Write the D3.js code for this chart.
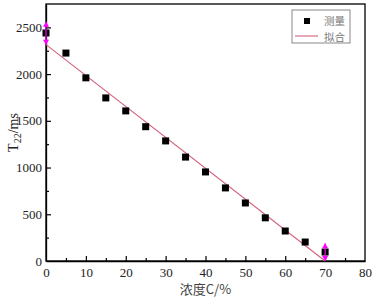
<!DOCTYPE html>
<html><head><meta charset="utf-8">
<script src="https://cdn.jsdelivr.net/npm/d3@7"></script>
<style>body{margin:0;background:#fff}svg{display:block}</style>
</head><body>
<script>
const concentration = [0,5,10,15,20,25,30,35,40,45,50,55,60,65,70];
const measured = [2440,2225,1960,1745,1606,1437,1285,1112,953,782,621,462,321,203,96];
const fitX = [0,70];
const fitY = [2315,0];
const errorBars = [{x:0, lo:2315, hi:2560},{x:70, lo:0, hi:190}];
const xTicks = [0,10,20,30,40,50,60,70,80];
const yTicks = [0,500,1000,1500,2000,2500];
const legendLabels = ["测量","拟合"];

const W=376,H=302;
const m={l:46,r:11,t:4,b:41};
const svg=d3.select("body").append("svg").attr("width",W).attr("height",H);
const x=d3.scaleLinear().domain([0,80]).range([m.l,W-m.r]);
const y=d3.scaleLinear().domain([0,2750]).range([H-m.b,m.t]);
const font="'Liberation Serif','Times New Roman',serif";

// frame
svg.append("rect").attr("x",m.l).attr("y",m.t).attr("width",W-m.r-m.l).attr("height",H-m.b-m.t)
  .attr("fill","none").attr("stroke","#000").attr("stroke-width",1.3);

// x axis
const xa=svg.append("g").attr("transform",`translate(0,${H-m.b})`)
  .call(d3.axisBottom(x).tickValues(xTicks).tickFormat(d3.format("d")).tickSizeInner(-5).tickSizeOuter(0).tickPadding(7));
xa.selectAll(".tick").filter(d=>d===0||d===80).select("line").remove();
const xm=svg.append("g").attr("transform",`translate(0,${H-m.b})`)
  .call(d3.axisBottom(x).tickValues(d3.range(5,80,10)).tickSizeInner(-3).tickSizeOuter(0).tickFormat(""));
xm.select(".domain").remove();
// y axis
const ya=svg.append("g").attr("transform",`translate(${m.l},0)`)
  .call(d3.axisLeft(y).tickValues(yTicks).tickFormat(d3.format("d")).tickSizeInner(-5).tickSizeOuter(0).tickPadding(4));
ya.selectAll(".tick").filter(d=>d===0).select("line").remove();
const ym=svg.append("g").attr("transform",`translate(${m.l},0)`)
  .call(d3.axisLeft(y).tickValues(d3.range(250,2750,500)).tickSizeInner(-3).tickSizeOuter(0).tickFormat(""));
ym.select(".domain").remove();
svg.selectAll(".domain").attr("stroke","#000").attr("stroke-width",1.3);
svg.selectAll(".tick line").attr("stroke","#000").attr("stroke-width",1.2);
svg.selectAll(".tick text").attr("font-family",font).attr("font-size",13).attr("fill","#222");

// axis titles
svg.append("text").attr("x",(m.l+W-m.r)/2).attr("y",294).attr("text-anchor","middle")
  .attr("font-family","'Noto Sans CJK SC',sans-serif").attr("font-size",13).attr("fill","#444").text("浓度C/%");
const yt=svg.append("text").attr("transform",`translate(18,${(m.t+H-m.b)/2}) rotate(-90)`)
  .attr("text-anchor","middle").attr("font-family",font).attr("font-size",14).attr("fill","#222");
yt.append("tspan").text("T");
yt.append("tspan").attr("font-size",10).attr("dy",3).text("22");
yt.append("tspan").attr("dy",-3).text("/ms");

// fit line
const lineData=fitX.map((v,i)=>[v,fitY[i]]);
svg.append("path").datum(lineData).attr("fill","none").attr("stroke","#d4607a").attr("stroke-width",1.1)
  .attr("d",d3.line().x(d=>x(d[0])).y(d=>y(d[1])));

// markers
svg.selectAll(".pt").data(concentration).enter().append("rect")
  .attr("x",(d)=>x(d)-3.5).attr("y",(d,i)=>y(measured[i])-3.5).attr("width",7).attr("height",7).attr("fill","#000");

// error bars with arrows
const mag="#ff00ff";
errorBars.forEach(e=>{
  const cx=x(e.x);
  svg.append("line").attr("x1",cx).attr("x2",cx).attr("y1",y(e.lo)).attr("y2",y(e.hi)).attr("stroke",mag).attr("stroke-width",1.2);
  svg.append("path").attr("d",`M${cx-3},${y(e.hi)+5}L${cx},${y(e.hi)}L${cx+3},${y(e.hi)+5}Z`).attr("fill",mag);
  svg.append("path").attr("d",`M${cx-3},${y(e.lo)-5}L${cx},${y(e.lo)}L${cx+3},${y(e.lo)-5}Z`).attr("fill",mag);
});

// legend
const lg=svg.append("g");
lg.append("rect").attr("x",292).attr("y",10).attr("width",58).attr("height",33).attr("fill","#fff").attr("stroke","#888").attr("stroke-width",1);
lg.append("rect").attr("x",304).attr("y",18).attr("width",6).attr("height",6).attr("fill","#000");
lg.append("line").attr("x1",295).attr("x2",318).attr("y1",36).attr("y2",36).attr("stroke","#d4607a").attr("stroke-width",1.1);
legendLabels.forEach((t,i)=>{
  lg.append("text").attr("x",324).attr("y",25+i*15.5).attr("font-family","'Noto Sans CJK SC',sans-serif")
    .attr("font-size",10.5).attr("fill","#777").text(t);
});
</script>
</body></html>
